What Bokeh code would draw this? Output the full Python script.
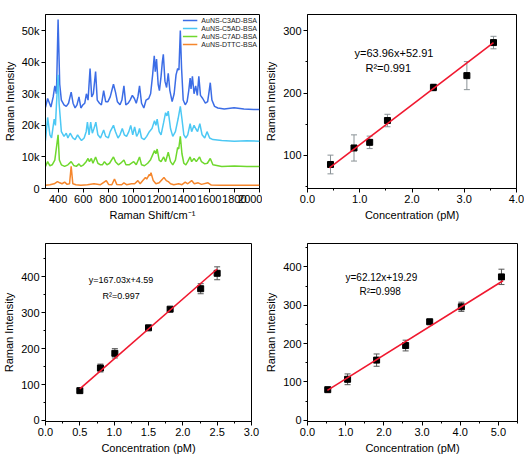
import math
from bokeh.plotting import figure
from bokeh.layouts import column, row
from bokeh.models import (Range1d, Label, Whisker, TeeHead, ColumnDataSource, FixedTicker,
                          SingleIntervalTicker, NumeralTickFormatter, Legend, LegendItem)
from bokeh.embed import file_html
from bokeh.resources import INLINE

FONT = "Liberation Sans"

# ---------------- panel (a): SERS spectra (intensity in thousands) ----------------
shift_c3ad = [300, 317, 343, 361, 374, 387, 400, 413, 426, 447, 465, 483, 504, 519, 535, 550, 566, 581, 597, 612,
              625, 638, 654, 667, 680, 698, 711, 729, 744, 762, 778, 796, 814, 830, 840, 856, 871, 892, 907, 923,
              938, 957, 972, 990, 1006, 1021, 1034, 1047, 1063, 1081, 1099, 1120, 1135, 1151, 1164, 1172, 1182, 1195, 1205, 1218,
              1228, 1236, 1249, 1262, 1275, 1288, 1306, 1322, 1337, 1350, 1360, 1371, 1381, 1394, 1410, 1425, 1438, 1449, 1456, 1467,
              1480, 1493, 1506, 1518, 1531, 1549, 1570, 1588, 1599, 1609, 1622, 1643, 1669, 1720, 1798, 1876, 1953, 2000]
int_c3ad = [25.7, 28.5, 25.8, 29, 32.5, 30, 53.5, 33, 28, 26.5, 26, 27, 30.5, 27, 25.5, 26.5, 29, 25.5, 26.5, 27,
            30, 28, 38, 29, 30, 37, 28, 27, 26.5, 31, 27.5, 27.5, 29, 31.5, 33, 30.5, 27.5, 26.5, 28, 32.5,
            26.5, 27, 28, 29.5, 28.5, 27, 29, 32.5, 27, 25.5, 28, 28.5, 30, 36, 42, 37, 41, 33, 31, 35.5,
            40, 42.5, 34, 32, 36.5, 31, 27.5, 30, 36, 38, 37.5, 50, 38, 28, 26.5, 27.5, 31, 35, 31.5, 35.5,
            30, 32.5, 29.5, 35.5, 29.5, 28.5, 27, 27.5, 30.5, 33.5, 28, 26, 25.5, 25.2, 25.6, 25.2, 25, 25]

shift_c5ad = [300, 317, 335, 348, 369, 379, 387, 400, 408, 426, 447, 465, 478, 496, 517, 535, 555, 571, 586, 607,
              623, 633, 646, 659, 672, 685, 700, 716, 737, 762, 778, 799, 814, 840, 856, 876, 892, 910, 926, 944,
              962, 977, 993, 1008, 1024, 1037, 1047, 1063, 1084, 1104, 1125, 1146, 1166, 1177, 1187, 1203, 1218, 1239, 1254, 1265,
              1275, 1293, 1311, 1332, 1353, 1371, 1384, 1399, 1415, 1430, 1449, 1461, 1480, 1493, 1508, 1526, 1544, 1565, 1583, 1604,
              1630, 1700, 1800, 1900, 2000]
int_c5ad = [15.2, 22.5, 17, 16, 22, 20, 26.5, 36, 27, 18, 16.5, 17.5, 16, 17.5, 16, 15.5, 17, 16, 15.2, 16,
            18, 21, 17, 21, 17.5, 19, 21, 17, 16, 18.5, 16.5, 16, 18, 20, 18, 16, 17, 19, 17, 16.5,
            18, 20, 17, 19.5, 16.5, 17.5, 19, 16, 15.5, 16.5, 18, 19, 21.5, 20, 22, 18, 17, 21, 24, 23,
            24.5, 19, 16.5, 18, 22, 26, 22, 17, 16, 17, 20.5, 18, 20, 19, 18, 20.5, 17, 16, 18, 16,
            15.5, 15.2, 15, 15.1, 15]

shift_c7ad = [300, 317, 335, 353, 374, 400, 410, 426, 452, 478, 504, 524, 545, 566, 581, 602, 623, 638, 649, 664,
              677, 698, 716, 737, 752, 768, 788, 809, 840, 856, 879, 897, 923, 939, 964, 983, 1001, 1021, 1047, 1063,
              1086, 1112, 1133, 1166, 1177, 1187, 1203, 1218, 1239, 1254, 1275, 1293, 1311, 1332, 1350, 1358, 1371, 1384, 1399, 1415,
              1430, 1449, 1461, 1480, 1498, 1524, 1539, 1565, 1586, 1609, 1630, 1700, 1800, 1900, 2000]
int_c7ad = [7, 8.5, 7.2, 7.5, 9, 17, 9, 7.5, 7, 7.5, 8.5, 7.3, 7, 7.8, 7, 7.5, 8.5, 9.5, 8.5, 9.5,
            8, 10, 8, 7.5, 7.5, 8.5, 7.5, 8, 10, 8.5, 7.5, 8, 9, 7.5, 7.5, 8, 8.5, 7.5, 10, 7.5,
            7.2, 8, 9, 12, 11, 12.5, 9, 8.5, 10, 8.5, 11.5, 8.5, 7.5, 9, 13, 12.5, 16.5, 11, 8, 7.5,
            8.5, 10, 8.5, 9.5, 8.5, 10, 8.5, 7.8, 8, 9.5, 7.5, 7, 7.1, 7, 7]

shift_dttc = [300, 335, 369, 395, 413, 431, 452, 472, 491, 504, 517, 542, 581, 633, 685, 737, 783, 801, 827, 848,
              866, 905, 923, 944, 983, 1008, 1034, 1052, 1073, 1094, 1104, 1125, 1130, 1138, 1156, 1177, 1203, 1241, 1260, 1275,
              1293, 1319, 1358, 1384, 1410, 1430, 1461, 1482, 1513, 1539, 1591, 1617, 1700, 1800, 1900, 2000]
int_dttc = [1, 1.2, 1.5, 2.2, 1.8, 1.5, 2, 1.3, 1.5, 7, 1.5, 1.2, 1, 1.2, 1.5, 1.2, 2.5, 1.3, 1.2, 3,
            1.3, 1.2, 1.8, 1.2, 1.5, 1.5, 2.5, 1.5, 2.5, 3.5, 3, 4.5, 4, 5, 2.5, 1.5, 1.8, 3.5, 2.5, 2.2,
            1.5, 1.2, 1.5, 1.2, 2, 1.5, 2.5, 1.5, 1.8, 1.3, 1.8, 1.1, 1, 1.05, 1, 1]

series_names = ["AuNS-C3AD-BSA", "AuNS-C5AD-BSA", "AuNS-C7AD-BSA", "AuNS-DTTC-BSA"]
series_colors = ["#3c6de6", "#4cc8f4", "#6fd82e", "#f5862c"]

a_yticks = [0, 10, 20, 30, 40, 50]
a_ylabels = ["0", "10k", "20k", "30k", "40k", "50k"]
a_xticks = [400, 600, 800, 1000, 1200, 1400, 1600, 1800, 2000]

# ---------------- panels (b), (c), (d): calibration ----------------
conc_b = [0.44, 0.89, 1.19, 1.53, 2.41, 3.05, 3.56]
int_b = [85.5, 112, 121, 156, 209, 228, 281]
err_b = [15, 21, 10, 10, 5.5, 22.5, 10]
fit_b_x = [0.42, 3.56]
fit_b_y = [80, 281]
eq_b = "y=63.96x+52.91"
r2_b = "R²=0.991"

conc_c = [0.50, 0.80, 1.01, 1.50, 1.815, 2.26, 2.50]
int_c = [83, 146, 187, 258, 310, 367, 410]
err_c = [4, 11, 13, 3, 4, 14, 18]
fit_c_x = [0.50, 2.50]
fit_c_y = [88, 422]
eq_c = "y=167.03x+4.59"
r2_c = "R²=0.997"

conc_d = [0.53, 1.05, 1.81, 2.57, 3.20, 4.03, 5.08]
int_d = [80, 107, 157, 195, 257, 296, 374]
err_d = [3, 14, 16, 14, 5, 12, 20]
fit_d_x = [0.52, 5.12]
fit_d_y = [78, 364]
eq_d = "y=62.12x+19.29"
r2_d = "R²=0.998"


def style(p):
    p.background_fill_color = "white"
    p.border_fill_color = "white"
    p.outline_line_color = "black"
    p.outline_line_width = 1
    p.xgrid.visible = False
    p.ygrid.visible = False
    for ax in p.axis:
        ax.axis_line_color = "black"
        ax.axis_line_width = 1
        ax.major_tick_out = 4
        ax.major_tick_in = 0
        ax.minor_tick_out = 2
        ax.minor_tick_in = 0
        ax.major_tick_line_color = "black"
        ax.minor_tick_line_color = "black"
        ax.major_label_text_font = FONT
        ax.major_label_text_font_size = "11px"
        ax.major_label_text_color = "black"
        ax.major_label_standoff = 2
        ax.axis_label_text_font = FONT
        ax.axis_label_text_font_size = "11px"
        ax.axis_label_text_font_style = "normal"
        ax.axis_label_text_color = "black"
        ax.axis_label_standoff = 3
    p.yaxis.axis_label = "Raman Intensity"


def panel_label(p, text, x, y):
    p.add_layout(Label(x=x, y=y, text=text, text_font=FONT, text_font_size="14px", text_color="black",
                       text_align="left", text_baseline="top"))


# ---------------- (a) ----------------
pa = figure(width=262, height=228, x_range=Range1d(300, 2000), y_range=Range1d(0, 55.1),
            min_border_left=40, min_border_right=3, min_border_top=13, min_border_bottom=40,
            output_backend="svg", toolbar_location=None)
style(pa)
pa.xaxis.ticker = FixedTicker(ticks=a_xticks, minor_ticks=[])
pa.yaxis.ticker = FixedTicker(ticks=a_yticks, minor_ticks=[])
pa.yaxis.major_label_overrides = {t: l for t, l in zip(a_yticks, a_ylabels)}
pa.xaxis.axis_label = "Raman Shift/cm⁻¹"
rs = []
for sx, sy, c in zip([shift_c3ad, shift_c5ad, shift_c7ad, shift_dttc],
                     [int_c3ad, int_c5ad, int_c7ad, int_dttc], series_colors):
    rs.append(pa.line(sx, sy, line_color=c, line_width=1.5))
leg = Legend(items=[LegendItem(label=n, renderers=[r]) for n, r in zip(series_names, rs)],
             location="top_right", margin=0, padding=2, spacing=0, label_height=8, glyph_height=8,
             glyph_width=15, label_standoff=4, label_text_font=FONT, label_text_font_size="7px",
             label_text_color="#222222", background_fill_alpha=0, border_line_alpha=0)
pa.add_layout(leg)
panel_label(pa, "(a)", 5, 58.6)


def calib(xr, yr, bl, br, bt, bb, xint, conc, inten, err, fx, fy,
          eq, r2, eqpos, r2pos, eqsize, errcolor):
    p = figure(width=262, height=228, x_range=Range1d(*xr), y_range=Range1d(*yr),
               min_border_left=bl, min_border_right=br, min_border_top=bt, min_border_bottom=bb,
               output_backend="svg", toolbar_location=None)
    style(p)
    p.xaxis.ticker = SingleIntervalTicker(interval=xint, num_minor_ticks=2)
    p.yaxis.ticker = SingleIntervalTicker(interval=100, num_minor_ticks=2)
    p.xaxis.formatter = NumeralTickFormatter(format="0.0")
    p.xaxis.axis_label = "Concentration (pM)"
    src = ColumnDataSource(dict(x=conc, y=inten,
                                upper=[v + e for v, e in zip(inten, err)],
                                lower=[v - e for v, e in zip(inten, err)]))
    p.add_layout(Whisker(base="x", upper="upper", lower="lower", source=src, level="underlay",
                         line_color=errcolor, line_width=1,
                         upper_head=TeeHead(size=6, line_color=errcolor, line_width=1),
                         lower_head=TeeHead(size=6, line_color=errcolor, line_width=1)))
    p.scatter("x", "y", source=src, marker="square", size=6, fill_color="black", line_color="black")
    p.line(fx, fy, line_color="#f0182f", line_width=1.6)
    p.add_layout(Label(x=eqpos[0], y=eqpos[1], text=eq, text_font=FONT, text_font_size=eqsize,
                       text_color="black", text_align="left", text_baseline="middle"))
    p.add_layout(Label(x=r2pos[0], y=r2pos[1], text=r2, text_font=FONT, text_font_size=eqsize,
                       text_color="black", text_align="left", text_baseline="middle"))
    return p


pb = calib((0, 4.0), (47, 326), 45, 8, 14, 40, 1.0, conc_b, int_b, err_b, fit_b_x, fit_b_y,
           eq_b, r2_b, (0.90, 265), (1.11, 241), "11px", "#8a9296")
panel_label(pb, "(b)", -0.65, 345)

pc = calib((0, 3.0), (-3, 493), 42, 11, 15, 35, 0.5, conc_c, int_c, err_c, fit_c_x, fit_c_y,
           eq_c, r2_c, (0.63, 390), (0.83, 348), "9px", "#555555")
panel_label(pc, "(c)", -0.57, 526)

pd_ = calib((0, 5.5), (-3, 461), 45, 7, 15, 35, 1.0, conc_d, int_d, err_d, fit_d_x, fit_d_y,
            eq_d, r2_d, (0.995, 372), (1.36, 336), "10px", "#555555")
panel_label(pd_, "(d)", -0.89, 487)

layout = column(row(pa, pb, spacing=0), row(pc, pd_, spacing=0), spacing=0)

open("out.html", "w").write(file_html(layout, INLINE))
